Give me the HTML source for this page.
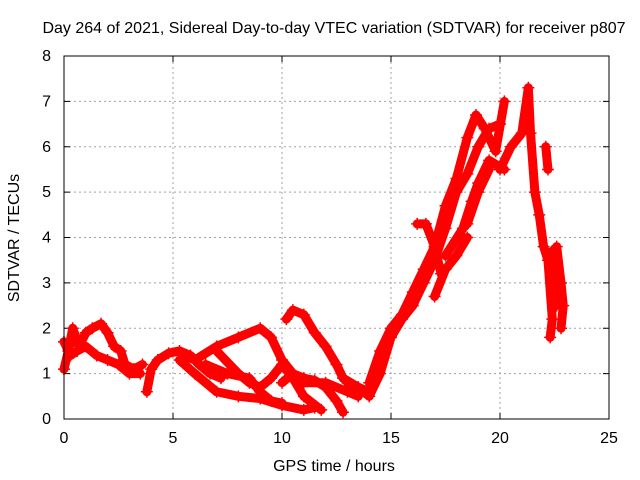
<!DOCTYPE html>
<html><head><meta charset="utf-8"><style>
body{margin:0;background:#fff;}
svg{display:block;font-family:"Liberation Sans",sans-serif;}
</style></head><body>
<svg id="chart" width="640" height="480">
<text x="334" y="33" font-size="16" text-anchor="middle">Day 264 of 2021, Sidereal Day-to-day VTEC variation (SDTVAR) for receiver p807</text>
<text x="334" y="471" font-size="16" text-anchor="middle">GPS time / hours</text>
<text transform="translate(19,238) rotate(-90)" font-size="16" text-anchor="middle">SDTVAR / TECUs</text>
<g id="grid"></g><g id="ticks"></g><g id="series"></g>
<rect x="64" y="56" width="545" height="363" fill="none" stroke="#000" stroke-width="1"/>
</svg>
<script>
const xTicks=[0,5,10,15,20,25];
const yTicks=[0,1,2,3,4,5,6,7,8];
const track1=[[0,1.1],[0.2,1.5],[0.4,2.0],[0.7,1.6],[1,1.9],[1.3,2.0],[1.7,2.1],[2.0,1.9],[2.3,1.6],[2.6,1.5],[2.8,1.2],[3.2,1.1],[3.6,1.2]];
const track2=[[0,1.7],[0.3,1.4],[0.6,1.5],[1.0,1.6],[1.5,1.4],[2.0,1.3],[2.5,1.2],[3.0,1.0],[3.5,1.0]];
const track3=[[3.8,0.6],[4.0,1.1],[4.3,1.3],[4.8,1.45],[5.3,1.5],[5.8,1.4],[6.2,1.2],[6.7,1.0],[7.2,0.9]];
const track4=[[5.5,1.4],[6,1.3],[7,1.6],[8,1.8],[9,2.0],[9.5,1.8],[10,1.3],[10.5,1.0],[11,0.8],[12,0.8],[13,0.6],[13.5,0.5]];
const track5=[[5.3,1.3],[6,1.0],[7,0.6],[8,0.5],[9,0.45],[10,0.3],[11,0.2],[11.5,0.25]];
const track6=[[6.5,1.2],[7.5,1.0],[8.5,0.9],[9,0.6],[9.5,0.4],[10,0.35]];
const track7=[[7,1.5],[8,1.0],[8.5,0.8],[9,0.7],[9.5,0.9],[10,1.2],[10.5,0.9],[11,0.5],[11.8,0.2]];
const track8=[[10.2,2.2],[10.5,2.4],[11,2.3],[11.5,1.9],[12,1.6],[12.5,1.2],[12.8,0.9],[13.5,0.7],[14,0.6]];
const track9=[[10,0.8],[10.5,1.0],[11,0.9],[11.5,0.85],[12,0.7],[12.5,0.4],[12.8,0.15]];
const track10=[[13,0.8],[13.5,0.7],[14,0.5],[14.5,1.0],[15,1.8],[15.5,2.2],[16,2.5],[16.5,3.0],[17,3.5],[17.5,4.2],[18,5.0],[18.5,5.4],[19,6.0],[19.5,6.4],[20,6.5]];
const track11=[[14,0.8],[14.5,1.5],[15,2.0],[15.5,2.3],[16,2.8],[16.5,3.3],[17,3.8],[17.5,4.7],[18,5.3],[18.5,6.2],[18.9,6.7],[19.3,6.4],[19.8,5.9],[20.2,7.0]];
const track12=[[16.2,4.3],[16.6,4.3],[17,3.8],[17.3,3.2]];
const track13=[[17,2.7],[17.5,3.3],[18,3.6],[18.5,4.0]];
const track14=[[17.5,3.6],[18.3,4.2],[18.7,4.8],[19,5.2],[19.5,5.7],[20.2,5.5]];
const track15=[[18.5,4.3],[19,5.0],[19.5,5.5]];
const track16=[[20,5.5],[20.5,6.0],[21,6.3],[21.3,7.3],[21.4,6.3],[21.6,5.0],[21.8,4.5],[22,3.8],[22.2,3.5],[22.4,2.2],[22.3,1.8]];
const track17=[[22.1,6.0],[22.2,5.5]];
const track18=[[22.6,3.8],[22.8,3.0],[22.9,2.5],[22.8,2.0]];
const track19=[[22.4,3.7],[22.5,3.2],[22.6,2.5]];
const tracks=[track1,track2,track3,track4,track5,track6,track7,track8,track9,track10,track11,track12,track13,track14,track15,track16,track17,track18,track19];
const NS="http://www.w3.org/2000/svg";
const X0=64,X1=609,Y0=419,Y1=56;
function sx(v){return X0+(v-0)/(25-0)*(X1-X0);}
function sy(v){return Y0-(v-0)/(8-0)*(Y0-Y1);}
function mk(t,a,p){const e=document.createElementNS(NS,t);for(const k in a)e.setAttribute(k,a[k]);p.appendChild(e);return e;}
const grid=document.getElementById('grid'),ticks=document.getElementById('ticks'),ser=document.getElementById('series');
xTicks.forEach(v=>{
  const x=sx(v);
  if(v>0&&v<25){const g=mk('line',{x1:x,x2:x,y1:Y0,y2:Y1,stroke:'#a0a0a0','stroke-dasharray':'2,3'},grid);
  
  }
  mk('line',{x1:x,x2:x,y1:Y0,y2:Y0-6,stroke:'#000'},ticks);
  mk('line',{x1:x,x2:x,y1:Y1,y2:Y1+6,stroke:'#000'},ticks);
  const t=mk('text',{x:x,y:443,'font-size':16,'text-anchor':'middle'},ticks);t.textContent=v;
  
  
});
yTicks.forEach(v=>{
  const y=sy(v);
  if(v>0&&v<8){const g=mk('line',{x1:X0,x2:X1,y1:y,y2:y,stroke:'#a0a0a0','stroke-dasharray':'2,3'},grid);
  
  }
  mk('line',{x1:X0,x2:X0+6,y1:y,y2:y,stroke:'#000'},ticks);
  mk('line',{x1:X1,x2:X1-6,y1:y,y2:y,stroke:'#000'},ticks);
  const t=mk('text',{x:51,y:y+5,'font-size':16,'text-anchor':'end'},ticks);t.textContent=v;
  
  
});
tracks.forEach((tr,i)=>{
  const pl=mk('polyline',{points:tr.map(p=>sx(p[0])+','+sy(p[1])).join(' '),fill:'none',stroke:'#ff0000','stroke-width':9,'stroke-linejoin':'round','stroke-linecap':'round'},ser);
  
  
  tr.forEach(p=>{
    const x=sx(p[0]),y=sy(p[1]);
    const m=mk('path',{d:`M${x-6},${y}H${x+6}M${x},${y-6}V${y+6}`,stroke:'#ff0000','stroke-width':1.5},ser);
    
    
  });
});
</script>
</body></html>
